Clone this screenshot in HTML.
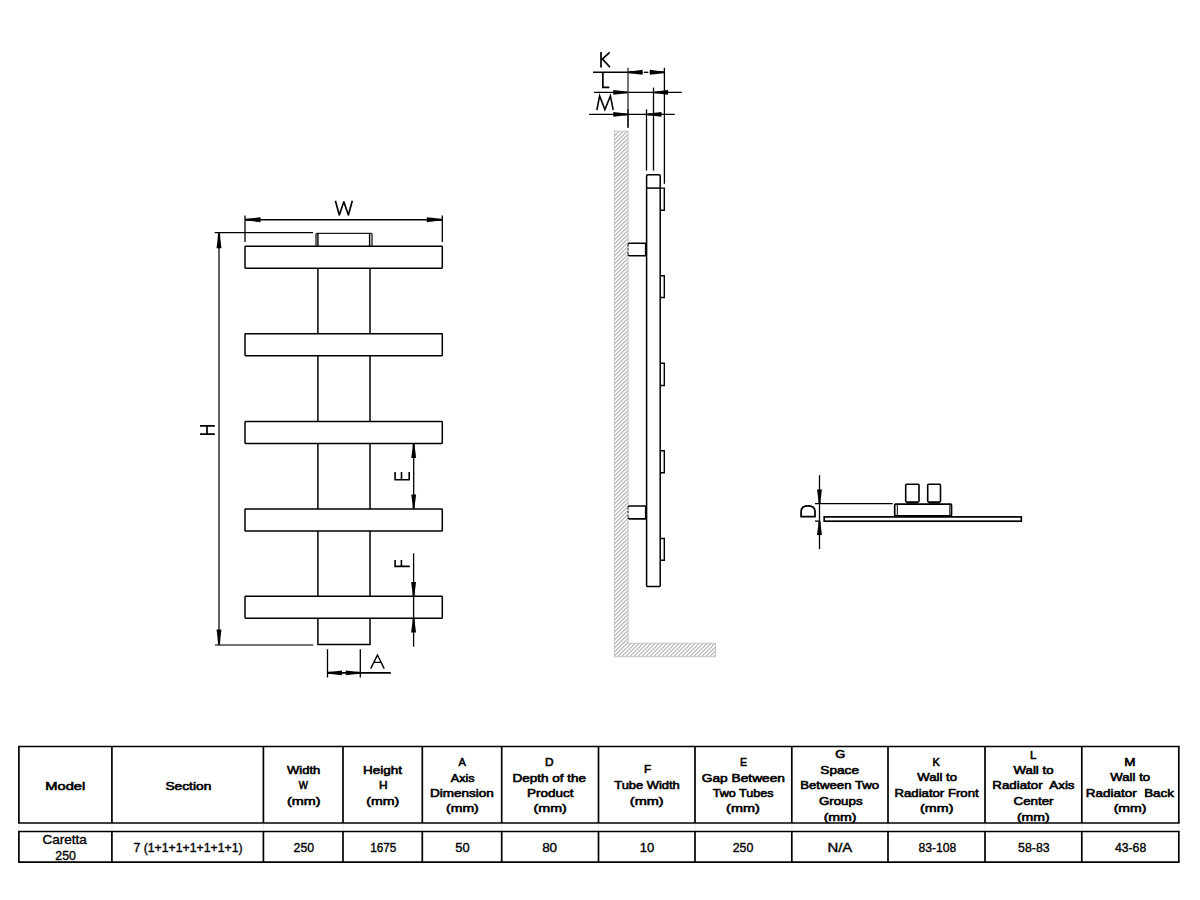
<!DOCTYPE html>
<html><head><meta charset="utf-8"><title>Caretta 250</title>
<style>html,body{margin:0;padding:0;background:#fff;width:1200px;height:900px;overflow:hidden}
svg{display:block} text{font-family:"Liberation Sans", sans-serif;fill:#000}</style></head>
<body><svg width="1200" height="900" viewBox="0 0 1200 900">
<rect x="0" y="0" width="1200" height="900" fill="#fff"/>
<line x1="317.9" y1="268.3" x2="317.9" y2="333.8" stroke="#000" stroke-width="1.5"/>
<line x1="370" y1="268.3" x2="370" y2="333.8" stroke="#000" stroke-width="1.5"/>
<line x1="317.9" y1="355.8" x2="317.9" y2="421.5" stroke="#000" stroke-width="1.5"/>
<line x1="370" y1="355.8" x2="370" y2="421.5" stroke="#000" stroke-width="1.5"/>
<line x1="317.9" y1="443.5" x2="317.9" y2="509.1" stroke="#000" stroke-width="1.5"/>
<line x1="370" y1="443.5" x2="370" y2="509.1" stroke="#000" stroke-width="1.5"/>
<line x1="317.9" y1="531.1" x2="317.9" y2="596.3" stroke="#000" stroke-width="1.5"/>
<line x1="370" y1="531.1" x2="370" y2="596.3" stroke="#000" stroke-width="1.5"/>
<path d="M317.9,618.3 L317.9,644.5 L370,644.5 L370,618.3" stroke="#000" stroke-width="1.5" fill="none"/>
<rect x="245" y="246.3" width="197.30" height="22.00" stroke="#000" stroke-width="1.5" fill="none" rx="0.7"/>
<rect x="245" y="333.8" width="197.30" height="22.00" stroke="#000" stroke-width="1.5" fill="none" rx="0.7"/>
<rect x="245" y="421.5" width="197.30" height="22.00" stroke="#000" stroke-width="1.5" fill="none" rx="0.7"/>
<rect x="245" y="509.1" width="197.30" height="22.00" stroke="#000" stroke-width="1.5" fill="none" rx="0.7"/>
<rect x="245" y="596.3" width="197.30" height="22.00" stroke="#000" stroke-width="1.5" fill="none" rx="0.7"/>
<path d="M316.0,246.3 L316.0,234.2 Q316.0,233.3 317.0,233.3 L371.0,233.3 Q372.0,233.3 372.0,234.2 L372.0,246.3" stroke="#1a1a1a" stroke-width="1.3" fill="none"/>
<line x1="317.9" y1="234" x2="317.9" y2="246.3" stroke="#000" stroke-width="1.4"/>
<line x1="369.6" y1="234" x2="369.6" y2="246.3" stroke="#000" stroke-width="1.4"/>
<line x1="245" y1="215.6" x2="245" y2="242" stroke="#000" stroke-width="1.3"/>
<line x1="442.3" y1="215.6" x2="442.3" y2="242" stroke="#000" stroke-width="1.3"/>
<line x1="245" y1="219.7" x2="442.3" y2="219.7" stroke="#000" stroke-width="1.5"/>
<path d="M245.50,218.70 L251.20,218.35 L260.50,217.25 L260.50,222.15 L251.20,221.05 L245.50,220.70 Z" fill="#000"/>
<path d="M441.80,220.70 L436.10,221.05 L426.80,222.15 L426.80,217.25 L436.10,218.35 L441.80,218.70 Z" fill="#000"/>
<path d="M335.4,200.7 L339.3,215.0 L343.8,201.8 L348.4,215.0 L352.3,200.7" stroke="#000" stroke-width="1.65" fill="none" stroke-linejoin="round"/>
<line x1="214.7" y1="232.7" x2="313" y2="232.7" stroke="#000" stroke-width="1.3"/>
<line x1="215" y1="645" x2="313.3" y2="645" stroke="#484848" stroke-width="1.4"/>
<line x1="219" y1="232.7" x2="219" y2="645" stroke="#383838" stroke-width="1.6"/>
<path d="M220.00,233.20 L220.35,238.90 L221.45,248.20 L216.55,248.20 L217.65,238.90 L218.00,233.20 Z" fill="#000"/>
<path d="M218.00,644.50 L217.65,638.80 L216.55,629.50 L221.45,629.50 L220.35,638.80 L220.00,644.50 Z" fill="#000"/>
<path d="M200.0,425.9 H214.8 M200.0,434.2 H214.8 M207.0,425.9 V434.2" stroke="#000" stroke-width="1.7" fill="none" stroke-linejoin="miter"/>
<line x1="413.7" y1="443.3" x2="413.7" y2="509.1" stroke="#000" stroke-width="1.3"/>
<path d="M414.70,444.00 L415.05,449.32 L416.15,458.00 L411.25,458.00 L412.35,449.32 L412.70,444.00 Z" fill="#000"/>
<path d="M412.70,508.40 L412.35,503.08 L411.25,494.40 L416.15,494.40 L415.05,503.08 L414.70,508.40 Z" fill="#000"/>
<path d="M395.1,471.9 V479.8 H409.2 V471.9 M401.5,471.9 V479.8" stroke="#000" stroke-width="1.6" fill="none" stroke-linejoin="miter"/>
<line x1="413.6" y1="553.3" x2="413.6" y2="646.7" stroke="#000" stroke-width="1.3"/>
<path d="M412.60,596.10 L412.25,590.78 L411.15,582.10 L416.05,582.10 L414.95,590.78 L414.60,596.10 Z" fill="#000"/>
<path d="M414.60,618.40 L414.95,623.72 L416.05,632.40 L411.15,632.40 L412.25,623.72 L412.60,618.40 Z" fill="#000"/>
<path d="M395.1,560.1 V566.4 H409.8 M401.4,560.1 V566.4" stroke="#000" stroke-width="1.6" fill="none" stroke-linejoin="miter"/>
<line x1="327.5" y1="649.2" x2="327.5" y2="677.5" stroke="#000" stroke-width="1.3"/>
<line x1="360.3" y1="649.2" x2="360.3" y2="677.5" stroke="#000" stroke-width="1.3"/>
<line x1="327.5" y1="672.85" x2="390.8" y2="672.85" stroke="#000" stroke-width="1.55"/>
<path d="M328.00,671.85 L333.32,671.50 L342.00,670.40 L342.00,675.30 L333.32,674.20 L328.00,673.85 Z" fill="#000"/>
<path d="M359.80,673.85 L354.48,674.20 L345.80,675.30 L345.80,670.40 L354.48,671.50 L359.80,671.85 Z" fill="#000"/>
<path d="M370.7,668.6 L377.45,655.0 L384.2,668.6 M373.3,662.4 H381.6" stroke="#000" stroke-width="1.4" fill="none" stroke-linejoin="miter"/>
<defs><clipPath id="wallclip"><path d="M614.4,131.2 L628.1,131.2 L628.1,643.3 L715.5,643.3 L715.5,656.8 L614.4,656.8 Z"/></clipPath></defs>
<path d="M54.40,660 L584.40,130 M58.40,660 L588.40,130 M62.40,660 L592.40,130 M66.40,660 L596.40,130 M70.40,660 L600.40,130 M74.40,660 L604.40,130 M78.40,660 L608.40,130 M82.40,660 L612.40,130 M86.40,660 L616.40,130 M90.40,660 L620.40,130 M94.40,660 L624.40,130 M98.40,660 L628.40,130 M102.40,660 L632.40,130 M106.40,660 L636.40,130 M110.40,660 L640.40,130 M114.40,660 L644.40,130 M118.40,660 L648.40,130 M122.40,660 L652.40,130 M126.40,660 L656.40,130 M130.40,660 L660.40,130 M134.40,660 L664.40,130 M138.40,660 L668.40,130 M142.40,660 L672.40,130 M146.40,660 L676.40,130 M150.40,660 L680.40,130 M154.40,660 L684.40,130 M158.40,660 L688.40,130 M162.40,660 L692.40,130 M166.40,660 L696.40,130 M170.40,660 L700.40,130 M174.40,660 L704.40,130 M178.40,660 L708.40,130 M182.40,660 L712.40,130 M186.40,660 L716.40,130 M190.40,660 L720.40,130 M194.40,660 L724.40,130 M198.40,660 L728.40,130 M202.40,660 L732.40,130 M206.40,660 L736.40,130 M210.40,660 L740.40,130 M214.40,660 L744.40,130 M218.40,660 L748.40,130 M222.40,660 L752.40,130 M226.40,660 L756.40,130 M230.40,660 L760.40,130 M234.40,660 L764.40,130 M238.40,660 L768.40,130 M242.40,660 L772.40,130 M246.40,660 L776.40,130 M250.40,660 L780.40,130 M254.40,660 L784.40,130 M258.40,660 L788.40,130 M262.40,660 L792.40,130 M266.40,660 L796.40,130 M270.40,660 L800.40,130 M274.40,660 L804.40,130 M278.40,660 L808.40,130 M282.40,660 L812.40,130 M286.40,660 L816.40,130 M290.40,660 L820.40,130 M294.40,660 L824.40,130 M298.40,660 L828.40,130 M302.40,660 L832.40,130 M306.40,660 L836.40,130 M310.40,660 L840.40,130 M314.40,660 L844.40,130 M318.40,660 L848.40,130 M322.40,660 L852.40,130 M326.40,660 L856.40,130 M330.40,660 L860.40,130 M334.40,660 L864.40,130 M338.40,660 L868.40,130 M342.40,660 L872.40,130 M346.40,660 L876.40,130 M350.40,660 L880.40,130 M354.40,660 L884.40,130 M358.40,660 L888.40,130 M362.40,660 L892.40,130 M366.40,660 L896.40,130 M370.40,660 L900.40,130 M374.40,660 L904.40,130 M378.40,660 L908.40,130 M382.40,660 L912.40,130 M386.40,660 L916.40,130 M390.40,660 L920.40,130 M394.40,660 L924.40,130 M398.40,660 L928.40,130 M402.40,660 L932.40,130 M406.40,660 L936.40,130 M410.40,660 L940.40,130 M414.40,660 L944.40,130 M418.40,660 L948.40,130 M422.40,660 L952.40,130 M426.40,660 L956.40,130 M430.40,660 L960.40,130 M434.40,660 L964.40,130 M438.40,660 L968.40,130 M442.40,660 L972.40,130 M446.40,660 L976.40,130 M450.40,660 L980.40,130 M454.40,660 L984.40,130 M458.40,660 L988.40,130 M462.40,660 L992.40,130 M466.40,660 L996.40,130 M470.40,660 L1000.40,130 M474.40,660 L1004.40,130 M478.40,660 L1008.40,130 M482.40,660 L1012.40,130 M486.40,660 L1016.40,130 M490.40,660 L1020.40,130 M494.40,660 L1024.40,130 M498.40,660 L1028.40,130 M502.40,660 L1032.40,130 M506.40,660 L1036.40,130 M510.40,660 L1040.40,130 M514.40,660 L1044.40,130 M518.40,660 L1048.40,130 M522.40,660 L1052.40,130 M526.40,660 L1056.40,130 M530.40,660 L1060.40,130 M534.40,660 L1064.40,130 M538.40,660 L1068.40,130 M542.40,660 L1072.40,130 M546.40,660 L1076.40,130 M550.40,660 L1080.40,130 M554.40,660 L1084.40,130 M558.40,660 L1088.40,130 M562.40,660 L1092.40,130 M566.40,660 L1096.40,130 M570.40,660 L1100.40,130 M574.40,660 L1104.40,130 M578.40,660 L1108.40,130 M582.40,660 L1112.40,130 M586.40,660 L1116.40,130 M590.40,660 L1120.40,130 M594.40,660 L1124.40,130 M598.40,660 L1128.40,130 M602.40,660 L1132.40,130 M606.40,660 L1136.40,130 M610.40,660 L1140.40,130 M614.40,660 L1144.40,130 M618.40,660 L1148.40,130 M622.40,660 L1152.40,130 M626.40,660 L1156.40,130 M630.40,660 L1160.40,130 M634.40,660 L1164.40,130 M638.40,660 L1168.40,130 M642.40,660 L1172.40,130 M646.40,660 L1176.40,130 M650.40,660 L1180.40,130 M654.40,660 L1184.40,130 M658.40,660 L1188.40,130 M662.40,660 L1192.40,130 M666.40,660 L1196.40,130 M670.40,660 L1200.40,130 M674.40,660 L1204.40,130 M678.40,660 L1208.40,130 M682.40,660 L1212.40,130 M686.40,660 L1216.40,130 M690.40,660 L1220.40,130 M694.40,660 L1224.40,130 M698.40,660 L1228.40,130 M702.40,660 L1232.40,130 M706.40,660 L1236.40,130 M710.40,660 L1240.40,130 M714.40,660 L1244.40,130 M718.40,660 L1248.40,130 M722.40,660 L1252.40,130 M726.40,660 L1256.40,130 M730.40,660 L1260.40,130 M734.40,660 L1264.40,130 M738.40,660 L1268.40,130 M742.40,660 L1272.40,130 M746.40,660 L1276.40,130 M750.40,660 L1280.40,130 M754.40,660 L1284.40,130 M758.40,660 L1288.40,130 M762.40,660 L1292.40,130 M766.40,660 L1296.40,130 M770.40,660 L1300.40,130" stroke="#b4b4b4" stroke-width="1.1" fill="none" clip-path="url(#wallclip)"/>
<path d="M614.4,131.2 L628.1,131.2 L628.1,643.3 L715.5,643.3 L715.5,656.8 L614.4,656.8 Z" fill="none" stroke="#c4c4c4" stroke-width="1"/>
<rect x="646.6" y="174.7" width="13.60" height="411.90" stroke="#000" stroke-width="1.5" fill="none" rx="1.2"/>
<line x1="646.6" y1="188.1" x2="660.2" y2="188.1" stroke="#000" stroke-width="1.5"/>
<path d="M660.2,188.1 L664.3,188.1 L664.3,210.2 L660.2,210.2" stroke="#000" stroke-width="1.4" fill="none"/>
<path d="M660.2,275.7 L664.3,275.7 L664.3,297.5 L660.2,297.5" stroke="#000" stroke-width="1.4" fill="none"/>
<path d="M660.2,363.2 L664.3,363.2 L664.3,385.5 L660.2,385.5" stroke="#000" stroke-width="1.4" fill="none"/>
<path d="M660.2,450.8 L664.3,450.8 L664.3,472.7 L660.2,472.7" stroke="#000" stroke-width="1.4" fill="none"/>
<path d="M660.2,538.5 L664.3,538.5 L664.3,560.2 L660.2,560.2" stroke="#000" stroke-width="1.4" fill="none"/>
<path d="M646.6,243.2 L629.6,243.2 Q628.3,243.2 628.3,244.5 M628.3,254.39999999999998 Q628.3,255.7 629.6,255.7 L646.6,255.7" stroke="#000" stroke-width="1.6" fill="none"/>
<line x1="628.0" y1="244.7" x2="628.0" y2="254.2" stroke="#333" stroke-width="1.1" stroke-dasharray="2 1.6"/>
<line x1="645.5" y1="243.2" x2="645.5" y2="255.7" stroke="#000" stroke-width="1.2"/>
<path d="M646.6,506.0 L629.6,506.0 Q628.3,506.0 628.3,507.3 M628.3,517.6 Q628.3,518.9 629.6,518.9 L646.6,518.9" stroke="#000" stroke-width="1.6" fill="none"/>
<line x1="628.0" y1="507.5" x2="628.0" y2="517.4" stroke="#333" stroke-width="1.1" stroke-dasharray="2 1.6"/>
<line x1="645.5" y1="506.0" x2="645.5" y2="518.9" stroke="#000" stroke-width="1.2"/>
<line x1="593" y1="72.3" x2="642.4" y2="72.3" stroke="#000" stroke-width="1.4"/>
<line x1="649.8" y1="72.3" x2="664.3" y2="72.3" stroke="#000" stroke-width="1.4"/>
<line x1="643.8" y1="72.3" x2="648.3" y2="72.3" stroke="#000" stroke-width="1.3"/>
<line x1="594" y1="92.4" x2="681.8" y2="92.4" stroke="#000" stroke-width="1.4"/>
<line x1="589" y1="114.4" x2="674.8" y2="114.4" stroke="#000" stroke-width="1.4"/>
<line x1="628" y1="67.8" x2="628" y2="109" stroke="#3a3a3a" stroke-width="1.4"/>
<line x1="628" y1="109" x2="628" y2="127.7" stroke="#000" stroke-width="1.6"/>
<line x1="664.4" y1="67.8" x2="664.4" y2="183.8" stroke="#000" stroke-width="1.3"/>
<line x1="653.5" y1="87.6" x2="653.5" y2="170.6" stroke="#000" stroke-width="1.3"/>
<line x1="646.5" y1="109.4" x2="646.5" y2="170.6" stroke="#000" stroke-width="1.3"/>
<path d="M628.30,71.30 L633.73,70.95 L642.60,69.85 L642.60,74.75 L633.73,73.65 L628.30,73.30 Z" fill="#000"/>
<path d="M664.10,73.30 L658.67,73.65 L649.80,74.75 L649.80,69.85 L658.67,70.95 L664.10,71.30 Z" fill="#000"/>
<path d="M627.30,93.40 L621.98,93.75 L613.30,94.85 L613.30,89.95 L621.98,91.05 L627.30,91.40 Z" fill="#000"/>
<path d="M654.50,91.40 L659.63,91.05 L668.00,89.95 L668.00,94.85 L659.63,93.75 L654.50,93.40 Z" fill="#000"/>
<path d="M627.30,115.40 L621.98,115.75 L613.30,116.85 L613.30,111.95 L621.98,113.05 L627.30,113.40 Z" fill="#000"/>
<path d="M647.50,113.40 L652.82,113.05 L661.50,111.95 L661.50,116.85 L652.82,115.75 L647.50,115.40 Z" fill="#000"/>
<path d="M601.0,52.0 V67.4 M609.7,52.3 L601.7,59.7 M602.6,59.1 L610.0,67.2" stroke="#000" stroke-width="1.7" fill="none" stroke-linejoin="miter"/>
<path d="M602.85,73.0 V87.4 H609.3" stroke="#000" stroke-width="1.7" fill="none" stroke-linejoin="miter"/>
<path d="M596.9,110.0 L599.6,95.9 L604.9,109.6 L610.4,95.9 L613.2,110.0" stroke="#000" stroke-width="1.55" fill="none" stroke-linejoin="miter" stroke-miterlimit="6"/>
<line x1="819.5" y1="475.2" x2="819.5" y2="549.1" stroke="#000" stroke-width="1.3"/>
<path d="M818.50,503.50 L818.15,498.18 L817.05,489.50 L821.95,489.50 L820.85,498.18 L820.50,503.50 Z" fill="#000"/>
<path d="M820.50,521.00 L820.85,526.32 L821.95,535.00 L817.05,535.00 L818.15,526.32 L818.50,521.00 Z" fill="#000"/>
<line x1="815" y1="503.7" x2="892.7" y2="503.7" stroke="#000" stroke-width="1.3"/>
<line x1="815" y1="521.1" x2="819.5" y2="521.1" stroke="#000" stroke-width="1.3"/>
<rect x="824.2" y="516.9" width="197.10" height="4.30" stroke="#000" stroke-width="1.7" fill="none" rx="0"/>
<rect x="894.7" y="504.2" width="56.80" height="11.70" stroke="#000" stroke-width="1.7" fill="none" rx="0.8"/>
<line x1="897.3" y1="505" x2="897.3" y2="515" stroke="#000" stroke-width="1"/>
<line x1="949.8" y1="505" x2="949.8" y2="515" stroke="#000" stroke-width="1"/>
<rect x="905.7" y="484.3" width="13.30" height="17.70" stroke="#000" stroke-width="1.6" fill="none" rx="1"/>
<line x1="906.5" y1="502.8" x2="918.2" y2="502.8" stroke="#000" stroke-width="1.6"/>
<rect x="927.7" y="484.3" width="12.80" height="17.70" stroke="#000" stroke-width="1.6" fill="none" rx="1"/>
<line x1="928.5" y1="502.8" x2="939.7" y2="502.8" stroke="#000" stroke-width="1.6"/>
<path d="M801.1,516.7 V511.8 C801.1,507.7 803.6,505.9 808.05,505.9 C812.5,505.9 815.0,507.7 815.0,511.8 V516.7 Z" stroke="#000" stroke-width="1.75" fill="none"/>
<line x1="18.9" y1="824" x2="18.9" y2="830.5" stroke="#e8e8e8" stroke-width="1"/>
<line x1="111.9" y1="824" x2="111.9" y2="830.5" stroke="#e8e8e8" stroke-width="1"/>
<line x1="263.4" y1="824" x2="263.4" y2="830.5" stroke="#e8e8e8" stroke-width="1"/>
<line x1="343" y1="824" x2="343" y2="830.5" stroke="#e8e8e8" stroke-width="1"/>
<line x1="422.3" y1="824" x2="422.3" y2="830.5" stroke="#e8e8e8" stroke-width="1"/>
<line x1="501.7" y1="824" x2="501.7" y2="830.5" stroke="#e8e8e8" stroke-width="1"/>
<line x1="598.5" y1="824" x2="598.5" y2="830.5" stroke="#e8e8e8" stroke-width="1"/>
<line x1="695" y1="824" x2="695" y2="830.5" stroke="#e8e8e8" stroke-width="1"/>
<line x1="791.8" y1="824" x2="791.8" y2="830.5" stroke="#e8e8e8" stroke-width="1"/>
<line x1="888" y1="824" x2="888" y2="830.5" stroke="#e8e8e8" stroke-width="1"/>
<line x1="985" y1="824" x2="985" y2="830.5" stroke="#e8e8e8" stroke-width="1"/>
<line x1="1081.8" y1="824" x2="1081.8" y2="830.5" stroke="#e8e8e8" stroke-width="1"/>
<line x1="1178.8" y1="824" x2="1178.8" y2="830.5" stroke="#e8e8e8" stroke-width="1"/>
<line x1="18.049999999999997" y1="746.5" x2="1179.6499999999999" y2="746.5" stroke="#000" stroke-width="1.7"/>
<line x1="18.049999999999997" y1="823" x2="1179.6499999999999" y2="823" stroke="#000" stroke-width="1.7"/>
<line x1="18.9" y1="746.5" x2="18.9" y2="823" stroke="#000" stroke-width="1.7"/>
<line x1="111.9" y1="746.5" x2="111.9" y2="823" stroke="#000" stroke-width="1.7"/>
<line x1="263.4" y1="746.5" x2="263.4" y2="823" stroke="#000" stroke-width="1.7"/>
<line x1="343" y1="746.5" x2="343" y2="823" stroke="#000" stroke-width="1.7"/>
<line x1="422.3" y1="746.5" x2="422.3" y2="823" stroke="#000" stroke-width="1.7"/>
<line x1="501.7" y1="746.5" x2="501.7" y2="823" stroke="#000" stroke-width="1.7"/>
<line x1="598.5" y1="746.5" x2="598.5" y2="823" stroke="#000" stroke-width="1.7"/>
<line x1="695" y1="746.5" x2="695" y2="823" stroke="#000" stroke-width="1.7"/>
<line x1="791.8" y1="746.5" x2="791.8" y2="823" stroke="#000" stroke-width="1.7"/>
<line x1="888" y1="746.5" x2="888" y2="823" stroke="#000" stroke-width="1.7"/>
<line x1="985" y1="746.5" x2="985" y2="823" stroke="#000" stroke-width="1.7"/>
<line x1="1081.8" y1="746.5" x2="1081.8" y2="823" stroke="#000" stroke-width="1.7"/>
<line x1="1178.8" y1="746.5" x2="1178.8" y2="823" stroke="#000" stroke-width="1.7"/>
<line x1="18.049999999999997" y1="831.5" x2="1179.6499999999999" y2="831.5" stroke="#000" stroke-width="1.7"/>
<line x1="18.049999999999997" y1="862.2" x2="1179.6499999999999" y2="862.2" stroke="#000" stroke-width="1.7"/>
<line x1="18.9" y1="831.5" x2="18.9" y2="862.2" stroke="#000" stroke-width="1.7"/>
<line x1="111.9" y1="831.5" x2="111.9" y2="862.2" stroke="#000" stroke-width="1.7"/>
<line x1="263.4" y1="831.5" x2="263.4" y2="862.2" stroke="#000" stroke-width="1.7"/>
<line x1="343" y1="831.5" x2="343" y2="862.2" stroke="#000" stroke-width="1.7"/>
<line x1="422.3" y1="831.5" x2="422.3" y2="862.2" stroke="#000" stroke-width="1.7"/>
<line x1="501.7" y1="831.5" x2="501.7" y2="862.2" stroke="#000" stroke-width="1.7"/>
<line x1="598.5" y1="831.5" x2="598.5" y2="862.2" stroke="#000" stroke-width="1.7"/>
<line x1="695" y1="831.5" x2="695" y2="862.2" stroke="#000" stroke-width="1.7"/>
<line x1="791.8" y1="831.5" x2="791.8" y2="862.2" stroke="#000" stroke-width="1.7"/>
<line x1="888" y1="831.5" x2="888" y2="862.2" stroke="#000" stroke-width="1.7"/>
<line x1="985" y1="831.5" x2="985" y2="862.2" stroke="#000" stroke-width="1.7"/>
<line x1="1081.8" y1="831.5" x2="1081.8" y2="862.2" stroke="#000" stroke-width="1.7"/>
<line x1="1178.8" y1="831.5" x2="1178.8" y2="862.2" stroke="#000" stroke-width="1.7"/>
<text x="0" y="0" font-size="11.6" font-weight="normal" text-anchor="middle" transform="translate(65.30 789.5) scale(1.2668 1)" stroke="#000" stroke-width="0.6">Model</text>
<text x="0" y="0" font-size="11.6" font-weight="normal" text-anchor="middle" transform="translate(188.37 789.5) scale(1.1872 1)" stroke="#000" stroke-width="0.6">Section</text>
<text x="0" y="0" font-size="11.6" font-weight="normal" text-anchor="middle" transform="translate(303.66 773.75) scale(1.1198 1)" stroke="#000" stroke-width="0.6">Width</text>
<text x="0" y="0" font-size="11.6" font-weight="normal" text-anchor="middle" transform="translate(303.30 789) scale(0.8333 1)" stroke="#000" stroke-width="0.6">W</text>
<text x="0" y="0" font-size="11.6" font-weight="normal" text-anchor="middle" transform="translate(303.75 805.25) scale(1.2461 1)" stroke="#000" stroke-width="0.6">(mm)</text>
<text x="0" y="0" font-size="11.6" font-weight="normal" text-anchor="middle" transform="translate(382.48 773.75) scale(1.1662 1)" stroke="#000" stroke-width="0.6">Height</text>
<text x="0" y="0" font-size="11.6" font-weight="normal" text-anchor="middle" transform="translate(383.32 789) scale(1.0234 1)" stroke="#000" stroke-width="0.6">H</text>
<text x="0" y="0" font-size="11.6" font-weight="normal" text-anchor="middle" transform="translate(382.82 805.25) scale(1.2207 1)" stroke="#000" stroke-width="0.6">(mm)</text>
<text x="0" y="0" font-size="11.6" font-weight="normal" text-anchor="middle" transform="translate(462.18 766) scale(0.9539 1)" stroke="#000" stroke-width="0.6">A</text>
<text x="0" y="0" font-size="11.6" font-weight="normal" text-anchor="middle" transform="translate(462.62 781.5) scale(1.0841 1)" stroke="#000" stroke-width="0.6">Axis</text>
<text x="0" y="0" font-size="11.6" font-weight="normal" text-anchor="middle" transform="translate(461.91 796.7) scale(1.1670 1)" stroke="#000" stroke-width="0.6">Dimension</text>
<text x="0" y="0" font-size="11.6" font-weight="normal" text-anchor="middle" transform="translate(462.40 811.5) scale(1.2109 1)" stroke="#000" stroke-width="0.6">(mm)</text>
<text x="0" y="0" font-size="11.6" font-weight="normal" text-anchor="middle" transform="translate(549.32 766) scale(1.0221 1)" stroke="#000" stroke-width="0.6">D</text>
<text x="0" y="0" font-size="11.6" font-weight="normal" text-anchor="middle" transform="translate(549.16 781.5) scale(1.1653 1)" stroke="#000" stroke-width="0.6">Depth of the</text>
<text x="0" y="0" font-size="11.6" font-weight="normal" text-anchor="middle" transform="translate(550.25 796.7) scale(1.1658 1)" stroke="#000" stroke-width="0.6">Product</text>
<text x="0" y="0" font-size="11.6" font-weight="normal" text-anchor="middle" transform="translate(550.15 811.5) scale(1.2305 1)" stroke="#000" stroke-width="0.6">(mm)</text>
<text x="0" y="0" font-size="11.6" font-weight="normal" text-anchor="middle" transform="translate(647.57 773.3) scale(1.0088 1)" stroke="#000" stroke-width="0.6">F</text>
<text x="0" y="0" font-size="11.6" font-weight="normal" text-anchor="middle" transform="translate(647.00 789.2) scale(1.1114 1)" stroke="#000" stroke-width="0.6">Tube Width</text>
<text x="0" y="0" font-size="11.6" font-weight="normal" text-anchor="middle" transform="translate(646.70 805.1) scale(1.2500 1)" stroke="#000" stroke-width="0.6">(mm)</text>
<text x="0" y="0" font-size="11.6" font-weight="normal" text-anchor="middle" transform="translate(743.52 765.9) scale(0.9048 1)" stroke="#000" stroke-width="0.6">E</text>
<text x="0" y="0" font-size="11.6" font-weight="normal" text-anchor="middle" transform="translate(743.39 781.6) scale(1.1848 1)" stroke="#000" stroke-width="0.6">Gap Between</text>
<text x="0" y="0" font-size="11.6" font-weight="normal" text-anchor="middle" transform="translate(743.16 796.5) scale(1.0848 1)" stroke="#000" stroke-width="0.6">Two Tubes</text>
<text x="0" y="0" font-size="11.6" font-weight="normal" text-anchor="middle" transform="translate(742.90 811.5) scale(1.2422 1)" stroke="#000" stroke-width="0.6">(mm)</text>
<text x="0" y="0" font-size="11.6" font-weight="normal" text-anchor="middle" transform="translate(840.34 758.45) scale(1.1118 1)" stroke="#000" stroke-width="0.6">G</text>
<text x="0" y="0" font-size="11.6" font-weight="normal" text-anchor="middle" transform="translate(839.67 773.7) scale(1.1808 1)" stroke="#000" stroke-width="0.6">Space</text>
<text x="0" y="0" font-size="11.6" font-weight="normal" text-anchor="middle" transform="translate(839.62 789) scale(1.1382 1)" stroke="#000" stroke-width="0.6">Between Two</text>
<text x="0" y="0" font-size="11.6" font-weight="normal" text-anchor="middle" transform="translate(840.74 805.1) scale(1.1486 1)" stroke="#000" stroke-width="0.6">Groups</text>
<text x="0" y="0" font-size="11.6" font-weight="normal" text-anchor="middle" transform="translate(840.10 821) scale(1.2188 1)" stroke="#000" stroke-width="0.6">(mm)</text>
<text x="0" y="0" font-size="11.6" font-weight="normal" text-anchor="middle" transform="translate(936.22 766) scale(0.9394 1)" stroke="#000" stroke-width="0.6">K</text>
<text x="0" y="0" font-size="11.6" font-weight="normal" text-anchor="middle" transform="translate(937.18 781.45) scale(1.1366 1)" stroke="#000" stroke-width="0.6">Wall to</text>
<text x="0" y="0" font-size="11.6" font-weight="normal" text-anchor="middle" transform="translate(936.56 796.5) scale(1.1361 1)" stroke="#000" stroke-width="0.6">Radiator Front</text>
<text x="0" y="0" font-size="11.6" font-weight="normal" text-anchor="middle" transform="translate(936.75 811.5) scale(1.2305 1)" stroke="#000" stroke-width="0.6">(mm)</text>
<text x="0" y="0" font-size="11.6" font-weight="normal" text-anchor="middle" transform="translate(1033.10 758.6) scale(1.0000 1)" stroke="#000" stroke-width="0.6">L</text>
<text x="0" y="0" font-size="11.6" font-weight="normal" text-anchor="middle" transform="translate(1033.55 774) scale(1.1410 1)" stroke="#000" stroke-width="0.6">Wall to</text>
<text x="0" y="0" font-size="11.6" font-weight="normal" text-anchor="middle" transform="translate(1033.41 789) scale(1.1496 1)" stroke="#000" stroke-width="0.6">Radiator&#160; Axis</text>
<text x="0" y="0" font-size="11.6" font-weight="normal" text-anchor="middle" transform="translate(1033.52 805.4) scale(1.1500 1)" stroke="#000" stroke-width="0.6">Center</text>
<text x="0" y="0" font-size="11.6" font-weight="normal" text-anchor="middle" transform="translate(1033.35 821) scale(1.2148 1)" stroke="#000" stroke-width="0.6">(mm)</text>
<text x="0" y="0" font-size="11.6" font-weight="normal" text-anchor="middle" transform="translate(1129.95 766.2) scale(1.1667 1)" stroke="#000" stroke-width="0.6">M</text>
<text x="0" y="0" font-size="11.6" font-weight="normal" text-anchor="middle" transform="translate(1130.23 781.3) scale(1.1395 1)" stroke="#000" stroke-width="0.6">Wall to</text>
<text x="0" y="0" font-size="11.6" font-weight="normal" text-anchor="middle" transform="translate(1129.93 796.75) scale(1.1598 1)" stroke="#000" stroke-width="0.6">Radiator&#160; Back</text>
<text x="0" y="0" font-size="11.6" font-weight="normal" text-anchor="middle" transform="translate(1130.05 811.5) scale(1.2148 1)" stroke="#000" stroke-width="0.6">(mm)</text>
<text x="0" y="0" font-size="12" font-weight="normal" text-anchor="middle" transform="translate(64.66 843.8) scale(1.1263 1)" stroke="#000" stroke-width="0.35">Caretta</text>
<text x="0" y="0" font-size="12" font-weight="normal" text-anchor="middle" transform="translate(65.65 859.7) scale(1.0317 1)" stroke="#000" stroke-width="0.35">250</text>
<text x="0" y="0" font-size="12" font-weight="normal" text-anchor="middle" transform="translate(187.98 852) scale(1.0242 1)" stroke="#000" stroke-width="0.35">7 (1+1+1+1+1+1+1)</text>
<text x="0" y="0" font-size="12" font-weight="normal" text-anchor="middle" transform="translate(303.80 851.9) scale(1.0265 1)" stroke="#000" stroke-width="0.35">250</text>
<text x="0" y="0" font-size="12" font-weight="normal" text-anchor="middle" transform="translate(383.35 851.9) scale(0.9762 1)" stroke="#000" stroke-width="0.35">1675</text>
<text x="0" y="0" font-size="12" font-weight="normal" text-anchor="middle" transform="translate(462.40 851.9) scale(1.0726 1)" stroke="#000" stroke-width="0.35">50</text>
<text x="0" y="0" font-size="12" font-weight="normal" text-anchor="middle" transform="translate(549.60 851.9) scale(1.1210 1)" stroke="#000" stroke-width="0.35">80</text>
<text x="0" y="0" font-size="12" font-weight="normal" text-anchor="middle" transform="translate(647.03 851.9) scale(1.0833 1)" stroke="#000" stroke-width="0.35">10</text>
<text x="0" y="0" font-size="12" font-weight="normal" text-anchor="middle" transform="translate(743.05 851.9) scale(1.0317 1)" stroke="#000" stroke-width="0.35">250</text>
<text x="0" y="0" font-size="12" font-weight="normal" text-anchor="middle" transform="translate(839.82 851.9) scale(1.2407 1)" stroke="#000" stroke-width="0.35">N/A</text>
<text x="0" y="0" font-size="12" font-weight="normal" text-anchor="middle" transform="translate(937.33 851.9) scale(1.0124 1)" stroke="#000" stroke-width="0.35">83-108</text>
<text x="0" y="0" font-size="12" font-weight="normal" text-anchor="middle" transform="translate(1033.85 851.9) scale(1.0270 1)" stroke="#000" stroke-width="0.35">58-83</text>
<text x="0" y="0" font-size="12" font-weight="normal" text-anchor="middle" transform="translate(1130.55 851.9) scale(1.0201 1)" stroke="#000" stroke-width="0.35">43-68</text>
</svg></body></html>
